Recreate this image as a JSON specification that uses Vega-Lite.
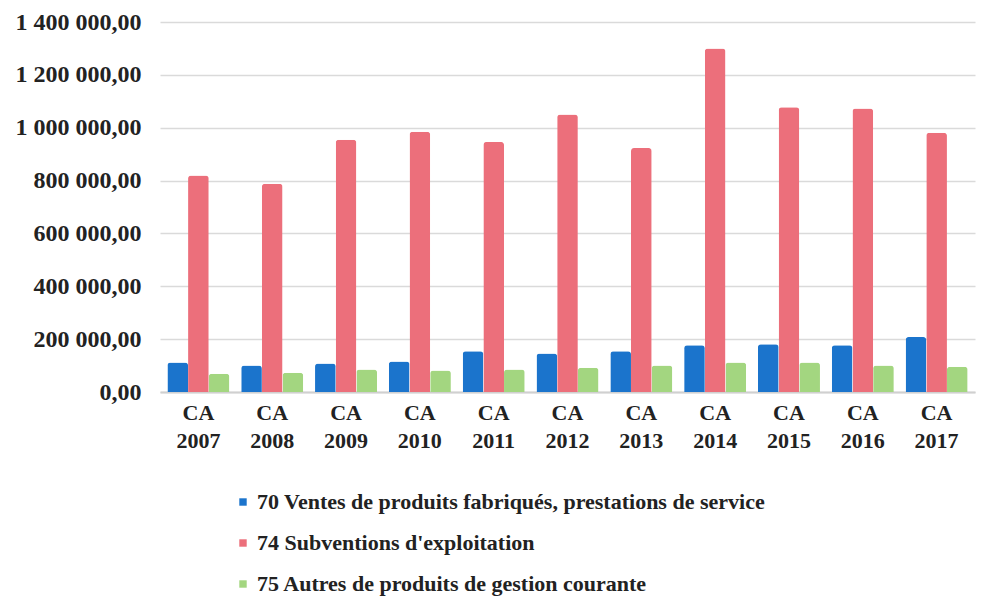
{
  "$schema": "https://vega.github.io/schema/vega-lite/v6.json",
  "autosize": "none",
  "width": 815,
  "height": 370,
  "padding": {"left": 160, "top": 22, "right": 9, "bottom": 207},
  "background": "white",
  "data": {
    "values": [
      {"annee": "CA 2007", "serie": "70 Ventes de produits fabriqués, prestations de service", "valeur": 112000},
      {"annee": "CA 2007", "serie": "74 Subventions d'exploitation", "valeur": 819000},
      {"annee": "CA 2007", "serie": "75 Autres de produits de gestion courante", "valeur": 69000},
      {"annee": "CA 2008", "serie": "70 Ventes de produits fabriqués, prestations de service", "valeur": 100000},
      {"annee": "CA 2008", "serie": "74 Subventions d'exploitation", "valeur": 788000},
      {"annee": "CA 2008", "serie": "75 Autres de produits de gestion courante", "valeur": 73000},
      {"annee": "CA 2009", "serie": "70 Ventes de produits fabriqués, prestations de service", "valeur": 108000},
      {"annee": "CA 2009", "serie": "74 Subventions d'exploitation", "valeur": 954000},
      {"annee": "CA 2009", "serie": "75 Autres de produits de gestion courante", "valeur": 85000},
      {"annee": "CA 2010", "serie": "70 Ventes de produits fabriqués, prestations de service", "valeur": 115000},
      {"annee": "CA 2010", "serie": "74 Subventions d'exploitation", "valeur": 985000},
      {"annee": "CA 2010", "serie": "75 Autres de produits de gestion courante", "valeur": 81000},
      {"annee": "CA 2011", "serie": "70 Ventes de produits fabriqués, prestations de service", "valeur": 154000},
      {"annee": "CA 2011", "serie": "74 Subventions d'exploitation", "valeur": 946000},
      {"annee": "CA 2011", "serie": "75 Autres de produits de gestion courante", "valeur": 85000},
      {"annee": "CA 2012", "serie": "70 Ventes de produits fabriqués, prestations de service", "valeur": 146000},
      {"annee": "CA 2012", "serie": "74 Subventions d'exploitation", "valeur": 1050000},
      {"annee": "CA 2012", "serie": "75 Autres de produits de gestion courante", "valeur": 92000},
      {"annee": "CA 2013", "serie": "70 Ventes de produits fabriqués, prestations de service", "valeur": 154000},
      {"annee": "CA 2013", "serie": "74 Subventions d'exploitation", "valeur": 923000},
      {"annee": "CA 2013", "serie": "75 Autres de produits de gestion courante", "valeur": 100000},
      {"annee": "CA 2014", "serie": "70 Ventes de produits fabriqués, prestations de service", "valeur": 177000},
      {"annee": "CA 2014", "serie": "74 Subventions d'exploitation", "valeur": 1300000},
      {"annee": "CA 2014", "serie": "75 Autres de produits de gestion courante", "valeur": 112000},
      {"annee": "CA 2015", "serie": "70 Ventes de produits fabriqués, prestations de service", "valeur": 181000},
      {"annee": "CA 2015", "serie": "74 Subventions d'exploitation", "valeur": 1077000},
      {"annee": "CA 2015", "serie": "75 Autres de produits de gestion courante", "valeur": 112000},
      {"annee": "CA 2016", "serie": "70 Ventes de produits fabriqués, prestations de service", "valeur": 177000},
      {"annee": "CA 2016", "serie": "74 Subventions d'exploitation", "valeur": 1073000},
      {"annee": "CA 2016", "serie": "75 Autres de produits de gestion courante", "valeur": 100000},
      {"annee": "CA 2017", "serie": "70 Ventes de produits fabriqués, prestations de service", "valeur": 208000},
      {"annee": "CA 2017", "serie": "74 Subventions d'exploitation", "valeur": 981000},
      {"annee": "CA 2017", "serie": "75 Autres de produits de gestion courante", "valeur": 96000}
    ]
  },
  "mark": {"type": "bar", "cornerRadiusTopLeft": 3, "cornerRadiusTopRight": 3},
  "encoding": {
    "x": {
      "field": "annee",
      "type": "nominal",
      "scale": {"paddingInner": 0.16, "paddingOuter": 0.1},
      "axis": {
        "title": null,
        "labelAngle": 0,
        "labelExpr": "split(datum.label, ' ')",
        "labelFont": "Liberation Serif",
        "labelFontWeight": "bold",
        "labelFontSize": 22,
        "labelColor": "#222222",
        "labelLineHeight": 28,
        "labelPadding": 10,
        "ticks": false,
        "domainColor": "#d0d0d0",
        "domainWidth": 2
      }
    },
    "xOffset": {"field": "serie", "type": "nominal"},
    "y": {
      "field": "valeur",
      "type": "quantitative",
      "scale": {"domain": [0, 1400000]},
      "axis": {
        "title": null,
        "values": [0, 200000, 400000, 600000, 800000, 1000000, 1200000, 1400000],
        "labelExpr": "replace(replace(format(datum.value, ',.2f'), regexp(',', 'g'), ' '), '.', ',')",
        "labelFont": "Liberation Serif",
        "labelFontWeight": "bold",
        "labelFontSize": 24,
        "labelColor": "#222222",
        "labelPadding": 19,
        "ticks": false,
        "domain": false,
        "gridColor": "#dadada",
        "gridWidth": 1.5
      }
    },
    "color": {
      "field": "serie",
      "type": "nominal",
      "scale": {
        "domain": ["70 Ventes de produits fabriqués, prestations de service", "74 Subventions d'exploitation", "75 Autres de produits de gestion courante"],
        "range": ["#1b74cc", "#ec6f7b", "#a3d680"]
      },
      "legend": {
        "title": null,
        "orient": "none",
        "legendX": 72,
        "legendY": 469,
        "direction": "vertical",
        "symbolType": "square",
        "symbolSize": 55,
        "symbolStrokeWidth": 0,
        "labelFont": "Liberation Serif",
        "labelFontWeight": "bold",
        "labelFontSize": 22,
        "labelColor": "#222222",
        "labelLimit": 0,
        "labelOffset": 3,
        "rowPadding": 19
      }
    }
  },
  "config": {"view": {"stroke": null}}
}
